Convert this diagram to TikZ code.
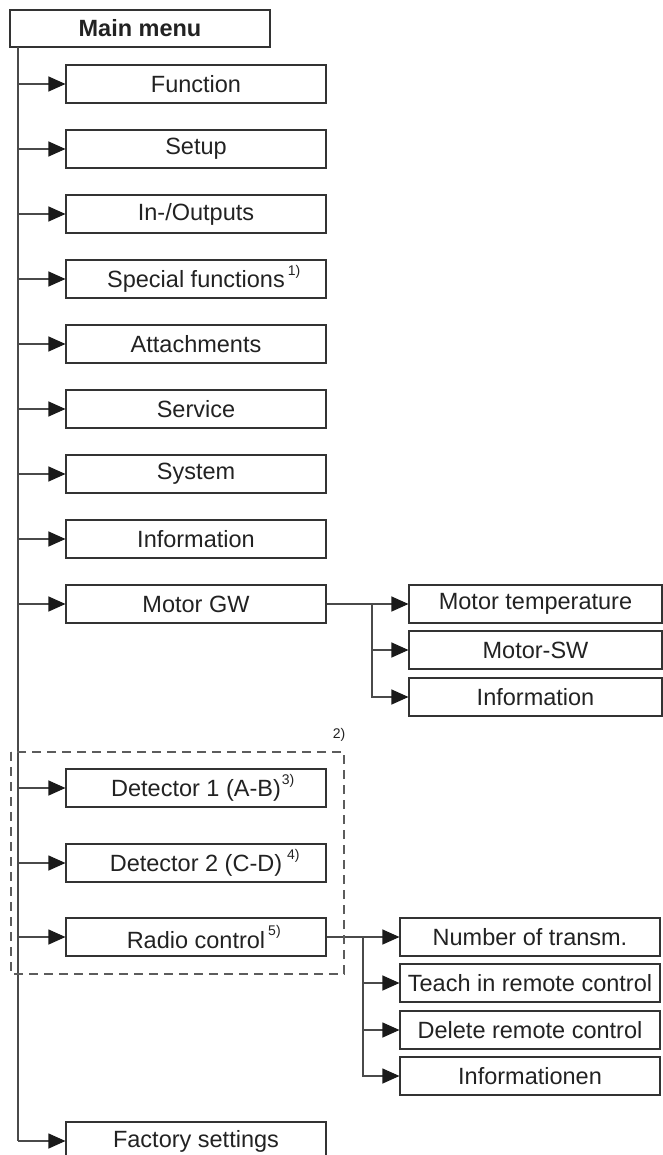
\documentclass[tikz,border=0pt]{standalone}
\usepackage{fontspec}
\setmainfont{Liberation Sans}
\usetikzlibrary{arrows.meta}
\definecolor{boxline}{HTML}{333333}
\definecolor{conn}{HTML}{4A4A4A}
\definecolor{tipcol}{HTML}{1A1A1A}
\definecolor{txt}{HTML}{222222}
\newcommand{\fnmark}[2]{\rlap{\hspace{#1}\raisebox{1.0ex}{\fontsize{14}{14}\selectfont #2}}}
\begin{document}
\begin{tikzpicture}[x=1pt,y=-1pt,
  menubox/.style={draw=boxline,line width=1.1pt,minimum width=260pt,minimum height=38pt,inner sep=0pt,
    text=txt,font=\fontsize{23.5}{25}\selectfont,anchor=center},
  subbox/.style={menubox,minimum width=253pt},
  conline/.style={draw=conn,line width=1.1pt},
  arr/.style={conline,-{Triangle[length=17pt,width=15pt,fill=tipcol,color=tipcol]}},
  dashbox/.style={draw=conn!90,line width=1.6pt,dash pattern=on 9pt off 6pt}
]
\clip (0,0) rectangle (663,1155);
\useasboundingbox (0,0) rectangle (663,1155);
% main menu
\node[menubox,minimum height=37pt,font=\fontsize{23.5}{25}\selectfont\bfseries] (main) at (140,28.5) {Main menu};
% first level
\node[menubox] (func) at (196,84) {Function};
\node[menubox] (setup) at (196,149) {Setup};
\node[menubox] (inout) at (196,214) {In-/Outputs};
\node[menubox] (special) at (196,279) {Special functions\fnmark{3pt}{1)}};
\node[menubox] (attach) at (196,344) {Attachments};
\node[menubox] (service) at (196,409) {Service};
\node[menubox] (system) at (196,474) {System};
\node[menubox] (info) at (196,539) {Information};
\node[menubox] (motor) at (196,604) {Motor GW};
\node[menubox] (det1) at (196,788) {Detector 1 (A-B)\fnmark{1pt}{3)}};
\node[menubox] (det2) at (196,863) {Detector 2 (C-D)\fnmark{5pt}{4)}};
\node[menubox] (radio) at (196,937) {Radio control\fnmark{3pt}{5)}};
\node[menubox] (factory) at (196,1141) {Factory settings};
% motor sub
\node[subbox] (mtemp) at (535.5,604) {Motor temperature};
\node[subbox] (msw) at (535.5,650) {Motor-SW};
\node[subbox] (minfo) at (535.5,697) {Information};
% radio sub
\node[menubox] (rnum) at (530,937) {Number of transm.};
\node[menubox] (rteach) at (530,983) {Teach in remote control};
\node[menubox] (rdel) at (530,1030) {Delete remote control};
\node[menubox] (rinfo) at (530,1076) {Informationen};
% trunk
\coordinate (t0) at (18,47);
\coordinate (tend) at (18,1141);
\draw[conline] (t0) -- (tend);
\foreach \n in {func,setup,inout,special,attach,service,system,info,motor,det1,det2,radio}{
  \draw[arr] (t0 |- \n.west) -- (\n.west);
}
\draw[arr] (tend) -- (factory.west);
% motor branch
\coordinate (mb) at (372,604);
\draw[arr] (motor.east) -- (mb) -- (mtemp.west);
\draw[arr] (mb) |- (msw.west);
\draw[arr] (mb) |- (minfo.west);
% radio branch
\coordinate (rb) at (363,937);
\draw[arr] (radio.east) -- (rb) -- (rnum.west);
\draw[arr] (rb) |- (rteach.west);
\draw[arr] (rb) |- (rdel.west);
\draw[arr] (rb) |- (rinfo.west);
% dashed group
\draw[dashbox] (11,752) rectangle (344,974);
\node[text=txt,font=\fontsize{14}{14}\selectfont,inner sep=0pt] (fn2) at (339,735) {2)};
\end{tikzpicture}
\end{document}
